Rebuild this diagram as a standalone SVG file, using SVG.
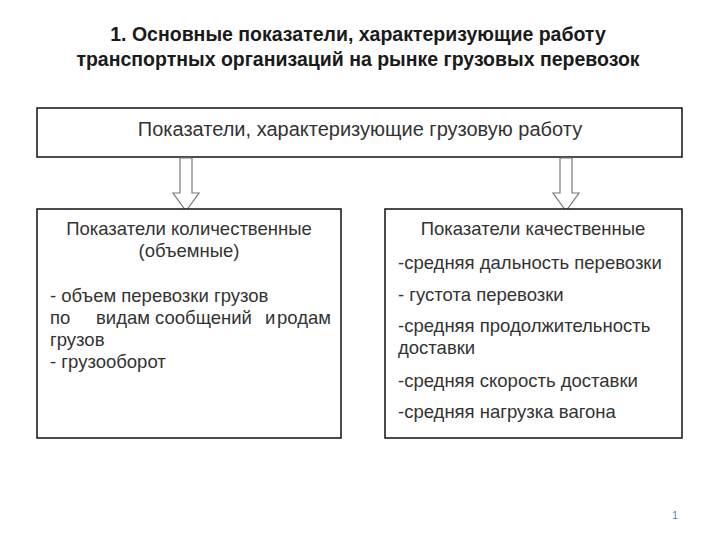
<svg xmlns="http://www.w3.org/2000/svg" width="720" height="540" viewBox="0 0 720 540">
<style>
.t{font-family:"Liberation Sans",Arial,sans-serif;fill:#222}
.h{font-size:19.5px;font-weight:bold;text-anchor:middle;fill:#1a1a1a}
.b{font-size:18.5px;fill:#333}
.box{fill:#fff;stroke:#111;stroke-width:1.5}
.arr{fill:#fff;stroke:#777;stroke-width:1.2}
</style>
<rect width="720" height="540" fill="#fff"/>
<text class="t h" x="358" y="41">1. Основные показатели, характеризующие работу</text>
<text class="t h" x="358" y="66">транспортных  организаций на рынке грузовых перевозок</text>
<g id="top"><rect class="box" x="37" y="108" width="645" height="49"/>
<text class="t b" x="360" y="136" text-anchor="middle" style="font-size:20px">Показатели, характеризующие грузовую работу</text></g>
<g id="connectors">
<path class="arr" d="M180,158 H192 V193 H199 L186,211 L173,193 H180 Z"/>
<path class="arr" d="M560,158 H572 V193 H579 L566,211 L553,193 H560 Z"/>
</g>
<g id="left"><rect class="box" x="37" y="209" width="304" height="229"/>
<text class="t b" x="189" y="235" text-anchor="middle">Показатели количественные</text>
<text class="t b" x="189" y="257" text-anchor="middle">(объемные)</text>
<text class="t b" x="50" y="302">- объем перевозки грузов</text>
<text class="t b" x="50" y="324">по<tspan x="96">видам</tspan><tspan x="155">сообщений</tspan><tspan x="265">и</tspan><tspan x="277">родам</tspan></text>
<text class="t b" x="50" y="346">грузов</text>
<text class="t b" x="50" y="368">- грузооборот</text></g>
<g id="right"><rect class="box" x="385" y="209" width="297" height="229"/>
<text class="t b" x="533" y="235" text-anchor="middle">Показатели качественные</text>
<text class="t b" x="398" y="269">-средняя дальность перевозки</text>
<text class="t b" x="398" y="301">- густота перевозки</text>
<text class="t b" x="398" y="332">-средняя продолжительность</text>
<text class="t b" x="398" y="354">доставки</text>
<text class="t b" x="398" y="387">-средняя скорость доставки</text>
<text class="t b" x="398" y="418">-средняя нагрузка вагона</text></g>
<text class="t" x="675" y="519" font-size="10" text-anchor="middle" style="fill:#4a7fc0">1</text>
</svg>
